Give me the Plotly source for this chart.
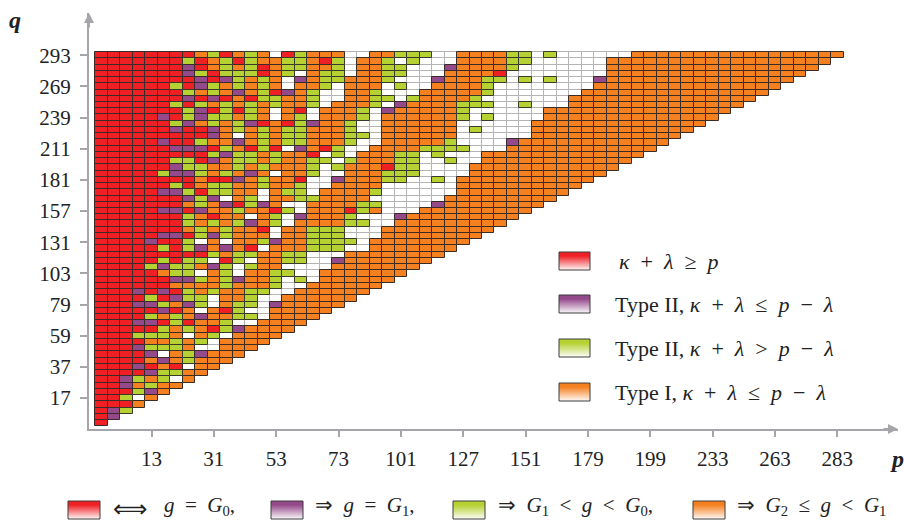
import plotly.graph_objects as go

# Prime labels on the axes (every fifth prime)
p_tick_labels = ["13", "31", "53", "73", "101", "127", "151", "179", "199", "233", "263", "283"]
q_tick_labels = ["17", "37", "59", "79", "103", "131", "157", "181", "211", "239", "269", "293"]
p_tick_cols = [4, 9, 14, 19, 24, 29, 34, 39, 44, 49, 54, 59]
q_tick_rows = [4, 9, 14, 19, 24, 29, 34, 39, 44, 49, 54, 59]

# One string per q, top row first. R red, P purple, G green, O orange, W white.
# Row of index r holds 60-r cells; orange cells at the end of a row are left out.
rows = [
    "RRRRRRRROGROGOWRGOOO" "WWOOGGGWWOOOOGGWGWWWWWW",
    "RRRRRRRGROGRGOOGGORG" "WOOGWGWWWOOOOGGWWWWWW",
    "RRRRRRRPROGOGROGGOOG" "WOOGGWWWPOOOOGWWWWWWW",
    "RRRRRRRPGRGGGROGWOGG" "WOOGGWWWOOOORWWWWWWWW",
    "RRRRRRRRPRPGOGOWPOGG" "OOOGWWWPOOOGGWGWGWWWP",
    "RRRRRRGRPGOGOGOWOOGW" "OOOWGWWOOOOGWWWWWWWW",
    "RRRRRRRGOGOPOGRPOGWW" "OOGWWWOOOOOGWWWWWWW",
    "RRRRRRRPRPRORGGOOGWW" "OOGGWGOOOOGWWWWWWW",
    "RRRRRRGRGOGOGOGOOGWO" "OOGWPOOOOGGGWWGWWW",
    "RRRRRRRGPRGRGOWORWOO" "OGWPOOOOOGWWWWWW",
    "RRRRRPRGPGGOGOWOGWOO" "OGWOOOOOOGWGWWWW",
    "RRRRRRGPOGOGPRORGPOO" "GWWOOOOOOWWWWWW",
    "RRRRRRPRRPOGOGOGGOOO" "GWWOOOOOOWGWWWW",
    "RRRRRRRRRPOWOGOGGOOO" "GGWOOOOOOWWWWWW",
    "RRRRRPRRGOOPOGOGGOOO" "GWWOOOOOGWWWWP",
    "RRRRRRPPPRGORGRWPORG" "WWOOOOGGGGWWW",
    "RRRRRRRRRGPGGOGOORWG" "WOOOGGWGWWW",
    "RRRRRRGGRPOGGOGOOGGW" "GOOOGGWWGWW",
    "RRRRRRPGGOOGOGOOOGWG" "OOORGGWWWW",
    "RRRRRGPPGOGOPOWOOGWW" "OOOGGGWWWW",
    "RRRRRRRRORRPOGOORWWP" "OOOGGWWGW",
    "RRRRRRGROGGOOGOOGWWO" "OOOWWWWWW",
    "RRRRRPPGRGGOOWOGGWOO" "OOGWWWWWW",
    "RRRRRRRPGPWOGWOOGGOO" "OOWWWWWW",
    "RRRRRRROGOPRGPOWWOOO" "OGGWWWWP",
    "RRRRRPPRPOOGOORGWOOO" "RGOWWW",
    "RRRRRRRGOROOWOGWPOOO" "GWWWP",
    "RRRRRRRGOGOGPOGWOOOO" "GGWW",
    "RRRRRRROGOGOORWOOGGG" "WWW",
    "RRRRRPPRGPGOOOWOOGGG" "WWW",
    "RRRRPRRGWOWOOGPOOGGG" "GW",
    "RRRRRGRGPOPORWOOOGGG" "WW",
    "RRRRRRRRRGOGGOOGGWWW",
    "RRRRRGRGGWRGWOOGGWWP",
    "RRRRGPGGOPGWGOOWWWWO",
    "RRRRROGGWOGWOOGGWWOO",
    "RRRRRRPPGOGPOOGWGWOO",
    "RRRRRROOOOGOOOGWWOOO",
    "RRRPRPRGOGOOGGWWOOOO",
    "RRRRGRPGGWOOGWWOOOOO",
    "RRRPPGOPGWOGGWPOOOOO",
    "RRRRRPROWORGWWOOOOO",
    "RRRRGOGOPOOGGWOOOO",
    "RRRPPRGROOGWWOOOO",
    "RRRRRGOGORGPOOOO",
    "RRRGGGOWOGWOOOO",
    "RRRROOGOGWOOOO",
    "RRRPGGGOWWOOO",
    "RRRRPWOGPOOO",
    "RRRROPOGOOO",
    "RRRPRORWOO",
    "RRRRPGGOO",
    "RRPGOGWO",
    "RRPOGOO",
    "RRRGPO",
    "RRGWO",
    "RRRO",
    "RPG",
    "RP",
    "R",
]

COLORS = {"R": "#ee2024", "P": "#94498a", "G": "#b5d132", "O": "#f58020", "W": "#ffffff"}
EDGES = {"R": "#3a2a2a", "P": "#3a2a2a", "G": "#3a3a2a", "O": "#3a2c22", "W": "#b4b4b6"}
GREY = "#a6a6aa"
INK = "#222222"
SERIF = "Liberation Serif"

W, H = 904, 520
L, R_EDGE, T, B = 89, 898, 13, 429
CELL_W, CELL_H = 12.47, 6.235
X0 = -0.5 - (95.4 - L) / CELL_W
Y0 = -(B - 426.2) / CELL_H

fig = go.Figure()
for kind in "WROGP":
    xs, bases = [], []
    for r, text in enumerate(rows):
        for c, ch in enumerate(text.ljust(60 - r, "O")[: 60 - r]):
            if ch == kind:
                xs.append(c)
                bases.append(59 - r)
    fig.add_bar(
        x=xs, y=[1] * len(xs), base=bases, width=1,
        marker=dict(color=COLORS[kind], line=dict(color=EDGES[kind], width=1)),
        hoverinfo="skip", showlegend=False,
    )


def px(x):
    return (x - L) / (R_EDGE - L)


def py(y):
    return (B - y) / (B - T)


def blend(hex_color, t):
    rgb = [int(hex_color[i:i + 2], 16) for i in (1, 3, 5)]
    return "rgb(%d,%d,%d)" % tuple(round(v + (255 - v) * t) for v in rgb)


shapes = []


def swatch(x0, y0, x1, y1, color):
    n = int(y1 - y0)
    for k in range(n):
        f = k / max(n - 1, 1)
        t = 0.0 if f < 0.2 else min(1.0, (f - 0.2) / 0.8) * 0.93
        shapes.append(dict(type="rect", xref="paper", yref="paper", layer="above",
                           x0=px(x0), x1=px(x1), y0=py(y0 + k), y1=py(y0 + k + 1),
                           fillcolor=blend(color, t), line=dict(width=0)))
    shapes.append(dict(type="rect", xref="paper", yref="paper", layer="above",
                       x0=px(x0), x1=px(x1), y0=py(y0), y1=py(y1),
                       fillcolor="rgba(0,0,0,0)", line=dict(color="#3c3c3c", width=1)))


annots = []


def label(x, y, text, size=22, anchor="left"):
    annots.append(dict(x=px(x), y=py(y), xref="paper", yref="paper", text=text,
                       showarrow=False, xanchor=anchor, yanchor="middle",
                       font=dict(family=SERIF, size=size, color=INK)))


inner_keys = [
    ("R", 252, 617, "<i>κ</i>  +  <i>λ</i>  ≥  <i>p</i>"),
    ("P", 295, 613, "Type II, <i>κ</i>  +  <i>λ</i>  ≤  <i>p</i>  −  <i>λ</i>"),
    ("G", 339, 613, "Type II, <i>κ</i>  +  <i>λ</i>  &gt;  <i>p</i>  −  <i>λ</i>"),
    ("O", 383, 613, "Type I, <i>κ</i>  +  <i>λ</i>  ≤  <i>p</i>  −  <i>λ</i>"),
]
for kind, top, tx, text in inner_keys:
    swatch(559, top, 590, top + 18, COLORS[kind])
    label(tx, top + 9, text)

outer_keys = [
    ("R", 68, 162, "<i>g</i>  =  <i>G</i><sub>0</sub>,"),
    ("P", 271, 313, "⇒  <i>g</i>  =  <i>G</i><sub>1</sub>,"),
    ("G", 453, 496, "⇒  <i>G</i><sub>1</sub>  &lt;  <i>g</i>  &lt;  <i>G</i><sub>0</sub>,"),
    ("O", 693, 735, "⇒  <i>G</i><sub>2</sub>  ≤  <i>g</i>  &lt;  <i>G</i><sub>1</sub>"),
]
for kind, sx, tx, text in outer_keys:
    swatch(sx, 501, sx + 32, 519, COLORS[kind])
    label(tx, 506, text, size=21)
label(111, 509, "⟺", size=24)

label(15, 20, "<b><i>q</i></b>", size=24, anchor="center")
label(897, 459, "<b><i>p</i></b>", size=24, anchor="center")

annots.append(dict(x=px(R_EDGE), y=py(B), xref="paper", yref="paper", text="", showarrow=True,
                   ax=-16, ay=0, arrowhead=2, arrowsize=1, arrowwidth=2, arrowcolor=GREY))
annots.append(dict(x=px(L), y=py(T), xref="paper", yref="paper", text="", showarrow=True,
                   ax=0, ay=16, arrowhead=2, arrowsize=1, arrowwidth=2, arrowcolor=GREY))

tick_font = dict(family=SERIF, size=21, color=INK)
fig.update_layout(
    width=W, height=H, autosize=False,
    margin=dict(l=L, r=W - R_EDGE, t=T, b=H - B),
    paper_bgcolor="white", plot_bgcolor="white",
    barmode="overlay", bargap=0,
    shapes=shapes, annotations=annots,
    xaxis=dict(range=[X0, X0 + (R_EDGE - L) / CELL_W], tickmode="array",
               tickvals=p_tick_cols, ticktext=p_tick_labels, ticks="outside",
               ticklen=6, tickwidth=2, tickcolor=GREY, showgrid=False, zeroline=False,
               showline=True, linecolor=GREY, linewidth=2, tickfont=tick_font,
               ticklabelstandoff=4, fixedrange=True),
    yaxis=dict(range=[Y0, Y0 + (B - T) / CELL_H], tickmode="array",
               tickvals=[v + 0.5 for v in q_tick_rows], ticktext=q_tick_labels, ticks="outside",
               ticklen=7, tickwidth=2, tickcolor=GREY, showgrid=False, zeroline=False,
               showline=True, linecolor=GREY, linewidth=2, tickfont=tick_font,
               ticklabelstandoff=5, fixedrange=True),
)
fig.write_html("out.html", post_script="document.body.style.margin='0';",
               config={"displayModeBar": False})
